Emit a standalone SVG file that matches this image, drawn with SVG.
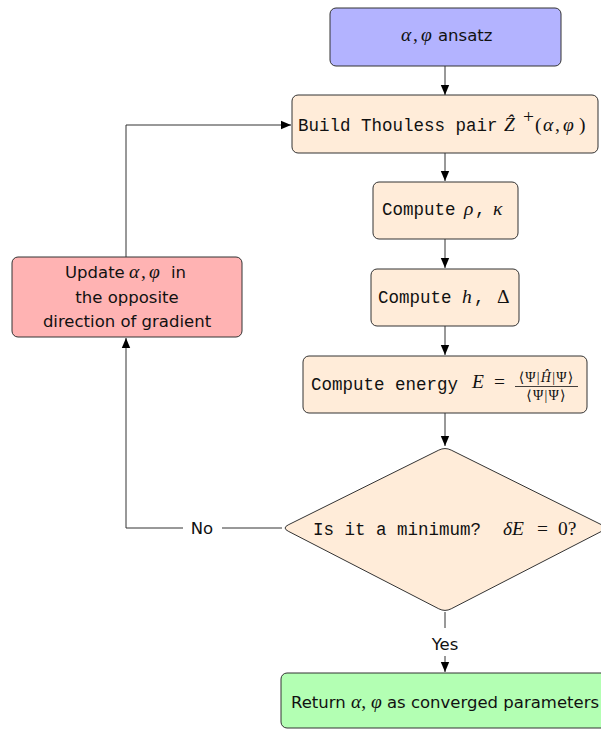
<svg xmlns="http://www.w3.org/2000/svg" width="601" height="729" viewBox="0 0 601 729">
<style>
.node{stroke:#333;stroke-width:1}
.blue{fill:#b3b3ff}.peach{fill:#ffecd9}.red{fill:#ffb3b3}.green{fill:#b3ffb3}
.tt{font-family:"Liberation Mono",monospace;font-size:17.5px;fill:#111}
.sf{font-family:"DejaVu Sans",sans-serif;font-size:16.5px;fill:#111}
.m{font-family:"Liberation Serif",serif;font-size:19.5px;fill:#111}
.mi{font-family:"Liberation Serif",serif;font-size:19.5px;font-style:italic;fill:#111}
.fr{font-family:"Liberation Serif","DejaVu Serif",serif;font-size:14px;letter-spacing:1.2px;fill:#111;text-anchor:middle}
.c{text-anchor:middle}
.conn{fill:none;stroke:#333;stroke-width:1}
</style>
<defs>
<marker id="arr" viewBox="0 0 10 10" refX="10" refY="5" markerWidth="10" markerHeight="10" markerUnits="userSpaceOnUse" orient="auto">
<path d="M0,0.8 L10,5 L0,9.2 Z" fill="#000"/>
</marker>
</defs>
<g id="connectors">
<line class="conn" x1="445" y1="66" x2="445" y2="95" marker-end="url(#arr)"/>
<line class="conn" x1="445" y1="153" x2="445" y2="181" marker-end="url(#arr)"/>
<line class="conn" x1="445" y1="239" x2="445" y2="268" marker-end="url(#arr)"/>
<line class="conn" x1="445" y1="326" x2="445" y2="355" marker-end="url(#arr)"/>
<line class="conn" x1="445" y1="413" x2="445" y2="446" marker-end="url(#arr)"/>
<path class="conn" d="M282,528 H222"/>
<path class="conn" d="M183,528 H126 V338" marker-end="url(#arr)"/>
<text class="sf c" x="202" y="534">No</text>
<path class="conn" d="M126,257 V125 H291" marker-end="url(#arr)"/>
<line class="conn" x1="445" y1="612" x2="445" y2="628"/>
<text class="sf c" x="445" y="650">Yes</text>
<line class="conn" x1="445" y1="656" x2="445" y2="672" marker-end="url(#arr)"/>
</g>
<g id="ansatz">
<rect class="node blue" x="330" y="8" width="231" height="58" rx="6"/>
<text y="41"><tspan class="mi" x="401">α</tspan><tspan class="m" x="413">,</tspan><tspan class="mi" x="421">φ</tspan><tspan class="sf" x="438">ansatz</tspan></text>
</g>
<g id="build">
<rect class="node peach" x="292" y="95" width="306" height="58" rx="6"/>
<text class="tt" x="298" y="131">Build Thouless pair</text>
<text y="131"><tspan class="mi" x="504">Ẑ</tspan><tspan class="m" x="523" y="123" font-size="13.5">+</tspan><tspan class="m" x="535" y="131">(</tspan><tspan class="mi" x="543">α</tspan><tspan class="m" x="555">,</tspan><tspan class="mi" x="563">φ</tspan><tspan class="m" x="579">)</tspan></text>
</g>
<g id="rho">
<rect class="node peach" x="373" y="182" width="145" height="57" rx="6"/>
<text y="215"><tspan class="tt" x="382">Compute</tspan><tspan class="mi" x="464">ρ</tspan><tspan class="tt" x="475">,</tspan><tspan class="mi" x="493">κ</tspan></text>
</g>
<g id="hdelta">
<rect class="node peach" x="371" y="269" width="148" height="57" rx="6"/>
<text y="303"><tspan class="tt" x="378">Compute</tspan><tspan class="mi" x="462">h</tspan><tspan class="tt" x="474">,</tspan><tspan class="m" x="497">Δ</tspan></text>
</g>
<g id="energy">
<rect class="node peach" x="303" y="356" width="284" height="57" rx="6"/>
<text class="tt" x="311" y="390">Compute energy</text>
<text class="mi" x="472" y="388">E</text>
<text class="m" x="494" y="388">=</text>
<line x1="515" y1="386.5" x2="578" y2="386.5" stroke="#111" stroke-width="0.8"/>
<text class="fr" x="546.5" y="382">⟨Ψ|<tspan font-style="italic">Ĥ</tspan>|Ψ⟩</text>
<text class="fr" x="546.5" y="400">⟨Ψ|Ψ⟩</text>
</g>
<g id="decision">
<path class="node peach" d="M438.8,450.1 Q445,447 451.2,450.1 L601.8,524.9 Q608,528 601.8,531.2 L451.2,608.8 Q445,612 438.8,608.8 L288.2,531.2 Q282,528 288.2,524.9 Z"/>
<text class="tt" x="313" y="535">Is it a minimum?</text>
<text y="535"><tspan class="mi" x="503">δE</tspan><tspan class="m" x="537">=</tspan><tspan class="m" x="558">0?</tspan></text>
</g>
<g id="update">
<rect class="node red" x="12" y="257" width="230" height="80" rx="6"/>
<text y="278"><tspan class="sf" x="65">Update</tspan><tspan class="mi" x="129">α</tspan><tspan class="m" x="141">,</tspan><tspan class="mi" x="149">φ</tspan><tspan class="sf" x="171">in</tspan></text>
<text class="sf c" x="127" y="303">the opposite</text>
<text class="sf c" x="127" y="327">direction of gradient</text>
</g>
<g id="return">
<rect class="node green" x="281" y="673" width="330" height="55" rx="6"/>
<text class="c" x="445" y="708"><tspan class="sf">Return </tspan><tspan class="mi">α</tspan><tspan class="m">, </tspan><tspan class="mi">φ</tspan><tspan class="sf"> as converged parameters</tspan></text>
</g>
</svg>
